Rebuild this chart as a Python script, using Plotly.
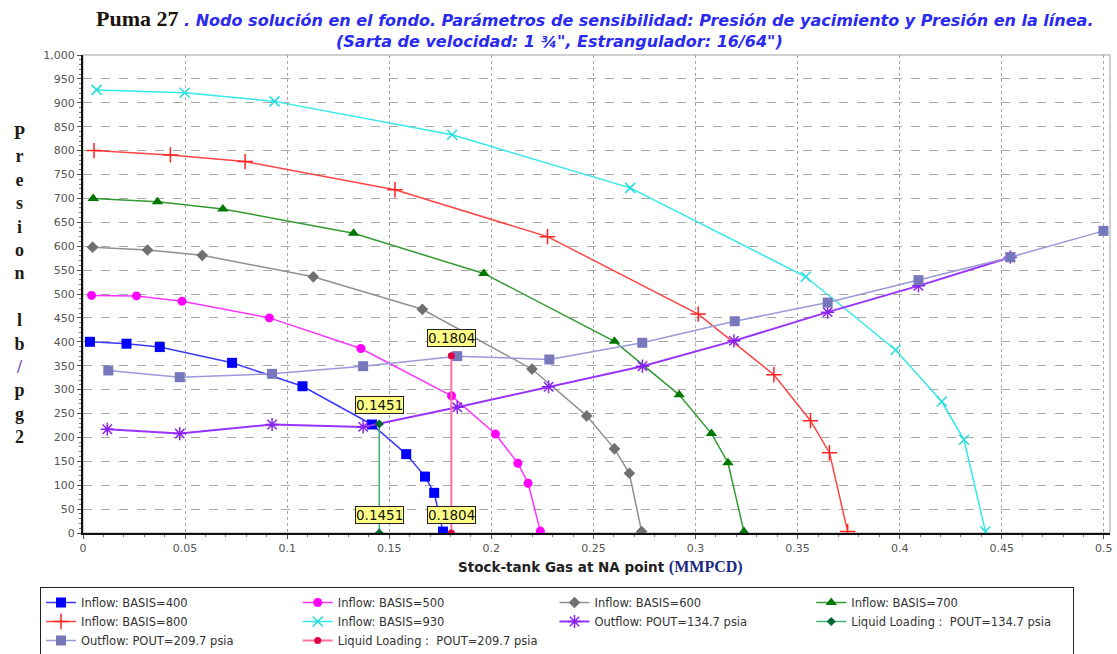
import plotly.graph_objects as go

# ---------------- data ----------------
x_b400 = [0.0034, 0.0213, 0.0376, 0.0730, 0.1075, 0.1415, 0.1583, 0.1675, 0.1720, 0.1763]
y_b400 = [400, 396, 389, 356, 307, 227, 165, 118, 84, 3]

x_b500 = [0.0042, 0.0262, 0.0485, 0.0913, 0.1361, 0.1805, 0.2020, 0.2130, 0.2180, 0.2240]
y_b500 = [497, 496, 485, 450, 386, 287, 207, 146, 104, 4]

x_b600 = [0.0047, 0.0316, 0.0584, 0.1128, 0.1662, 0.2199, 0.2467, 0.2603, 0.2676, 0.2736]
y_b600 = [598, 592, 581, 536, 468, 343, 245, 176, 125, 3]

x_b700 = [0.0050, 0.0365, 0.0685, 0.1325, 0.1963, 0.2603, 0.2920, 0.3078, 0.3159, 0.3237]
y_b700 = [700, 693, 678, 627, 543, 401, 289, 208, 147, 3]

x_b800 = [0.0054, 0.0428, 0.0794, 0.1528, 0.2275, 0.3013, 0.3384, 0.3563, 0.3656, 0.3745]
y_b800 = [800, 791, 777, 718, 620, 458, 331, 235, 168, 3]

x_b930 = [0.0067, 0.0498, 0.0938, 0.1808, 0.2680, 0.3540, 0.3980, 0.4206, 0.4315, 0.4420]
y_b930 = [927, 921, 903, 833, 722, 536, 383, 275, 195, 3]

x_out134 = [0.0119, 0.0474, 0.0926, 0.1372, 0.1833, 0.2280, 0.2740, 0.3188, 0.3647, 0.4092, 0.4542]
y_out134 = [217, 208, 227, 222, 263, 306, 349, 402, 462, 517, 577]

x_out209 = [0.0124, 0.0474, 0.0926, 0.1372, 0.1833, 0.2284, 0.2739, 0.3192, 0.3647, 0.4092, 0.4542, 0.4998]
y_out209 = [340, 326, 333, 349, 370, 363, 398, 443, 482, 529, 577, 632]

x_ll134 = [0.1451, 0.1451]
y_ll134 = [0, 228]

x_ll209 = [0.1804, 0.1804]
y_ll209 = [0, 371]

ll_labels = ["0.1451", "0.1804"]
ll_label_x = [0.1451, 0.1804]
ll_label_top_y = [268, 408]
ll_label_bot_y = [37, 37]

y_ticks = list(range(0, 1001, 50))
x_ticks = [0, 0.05, 0.1, 0.15, 0.2, 0.25, 0.3, 0.35, 0.4, 0.45, 0.5]
x_ticklabels = ["0", "0.05", "0.1", "0.15", "0.2", "0.25", "0.3", "0.35", "0.4", "0.45", "0.5"]

# ---------------- figure ----------------
W, H = 1117, 654
ML, MR, MT, MB = 83, 4, 55, 121
PW, PH = W - ML - MR, H - MT - MB
SANS = "DejaVu Sans"

fig = go.Figure()

def add(name, xs, ys, lcolor, symbol, mcolor, msize, lw=1.5, mline=None):
    marker = dict(symbol=symbol, color=mcolor, size=msize)
    if mline is not None:
        marker["line"] = dict(color=mline[0], width=mline[1])
    fig.add_trace(go.Scatter(x=xs, y=ys, mode="lines+markers", name=name,
                             line=dict(color=lcolor, width=lw), marker=marker))

add("Inflow: BASIS=400", x_b400, y_b400, "#3a3aff", "square", "#0000ff", 10)
add("Inflow: BASIS=500", x_b500, y_b500, "#ff33ff", "circle", "#ff00ff", 9)
add("Inflow: BASIS=600", x_b600, y_b600, "#909090", "diamond", "#707070", 9)
add("Inflow: BASIS=700", x_b700, y_b700, "#339933", "triangle-up", "#007700", 10)
add("Inflow: BASIS=800", x_b800, y_b800, "#ff4444", "cross-thin", "#ff2222", 11, mline=("#ff2222", 1.5))
add("Inflow: BASIS=930", x_b930, y_b930, "#33e8e8", "x-thin", "#22dddd", 10, mline=("#22dddd", 1.5))
add("Outflow: POUT=134.7 psia", x_out134, y_out134, "#9933ff", "asterisk-open", "#8822ee", 11, lw=2, mline=("#8822ee", 1.5))
add("Liquid Loading :  POUT=134.7 psia", x_ll134, y_ll134, "#3cb371", "diamond", "#006633", 7)
add("Outflow: POUT=209.7 psia", x_out209, y_out209, "#9a9ad8", "square", "#7777bb", 10)
add("Liquid Loading :  POUT=209.7 psia", x_ll209, y_ll209, "#ff6fa0", "circle", "#dd0044", 7, lw=2)

# value labels
for i in range(len(ll_labels)):
    for yy in (ll_label_top_y[i], ll_label_bot_y[i]):
        fig.add_annotation(x=ll_label_x[i], y=yy, xref="x", yref="y", text=ll_labels[i],
                           showarrow=False, font=dict(family=SANS, size=13.5, color="#111"),
                           bgcolor="#ffff88", bordercolor="#222", borderwidth=1, borderpad=0)

# pixel -> plot-area paper coords
def px_x(p):
    return (p - ML) / PW
def px_y(p):
    return (H - MB - p) / PH

fig.add_annotation(x=px_x(94), y=px_y(19), xref="paper", yref="paper", showarrow=False,
                   xanchor="left", yanchor="middle",
                   text="<span style='font-family:Liberation Serif;font-size:22px;color:#1a140c'><b>Puma 27</b></span>"
                        "<span style='color:#2a2af0'><b><i> . Nodo solución en el fondo. Parámetros de sensibilidad: "
                        "Presión de yacimiento y Presión en la línea.</i></b></span>",
                   font=dict(family=SANS, size=16, color="#2a2af0"))
fig.add_annotation(x=px_x(561), y=px_y(41), xref="paper", yref="paper", showarrow=False,
                   xanchor="center", yanchor="middle",
                   text="<b><i>(Sarta de velocidad: 1 ¾\", Estrangulador: 16/64\")</i></b>",
                   font=dict(family=SANS, size=16, color="#2a2af0"))

ylab = "<br>".join(["P", "r", "e", "s", "i", "o", "n", " ", "l", "b",
                     "<span style='color:#6a4aa8'>/</span>", "p", "g", "2"])
fig.add_annotation(x=px_x(19), y=px_y(285), xref="paper", yref="paper", showarrow=False,
                   xanchor="center", yanchor="middle", text="<b>" + ylab + "</b>",
                   font=dict(family="Liberation Serif", size=18, color="#1e1a14"))

fig.add_annotation(x=px_x(602), y=px_y(567), xref="paper", yref="paper", showarrow=False,
                   xanchor="center", yanchor="middle",
                   text="<b>Stock-tank Gas at NA point </b><span style='font-family:Liberation Serif;font-size:16px;color:#1a2a80'><b>(MMPCD)</b></span>",
                   font=dict(family=SANS, size=13.5, color="#222"))

# plot frame (top/right thin border)
fig.add_shape(type="rect", xref="paper", yref="paper", x0=0, x1=1, y0=0, y1=1,
              line=dict(color="#a0a0a0", width=1), layer="below")

fig.update_layout(
    width=W, height=H,
    margin=dict(l=ML, r=MR, t=MT, b=MB),
    paper_bgcolor="white", plot_bgcolor="white",
    font=dict(family=SANS, size=11, color="#444"),
    showlegend=True,
    legend=dict(orientation="h", xref="container", yref="container",
                x=40 / W, y=1 - 587 / H, xanchor="left", yanchor="top",
                entrywidth=0.25, entrywidthmode="fraction", itemwidth=30,
                bgcolor="white", bordercolor="#222", borderwidth=1,
                font=dict(family=SANS, size=11.5, color="#333"),
                tracegroupgap=0),
    xaxis=dict(range=[0, 0.503], tickvals=x_ticks, ticktext=x_ticklabels,
               showgrid=True, gridcolor="#a8a8a8", griddash="dot", gridwidth=1,
               showline=True, linecolor="#111", linewidth=2, zeroline=False,
               ticks="outside", ticklen=4, tickcolor="#555",
               minor=dict(dtick=0.01, ticks="outside", ticklen=2, tickcolor="#777", showgrid=False),
               tickfont=dict(family=SANS, size=11, color="#555")),
    yaxis=dict(range=[0, 1000], tickvals=y_ticks, tickformat=",d",
               showgrid=True, gridcolor="#a8a8a8", griddash="dash", gridwidth=1,
               showline=True, linecolor="#111", linewidth=2, zeroline=False,
               ticks="outside", ticklen=4, tickcolor="#555",
               minor=dict(dtick=10, ticks="outside", ticklen=2, tickcolor="#777", showgrid=False),
               tickfont=dict(family=SANS, size=11, color="#555")),
)

fig.write_html("out.html", config={"displayModeBar": False},
               post_script="document.body.style.margin='0';")
